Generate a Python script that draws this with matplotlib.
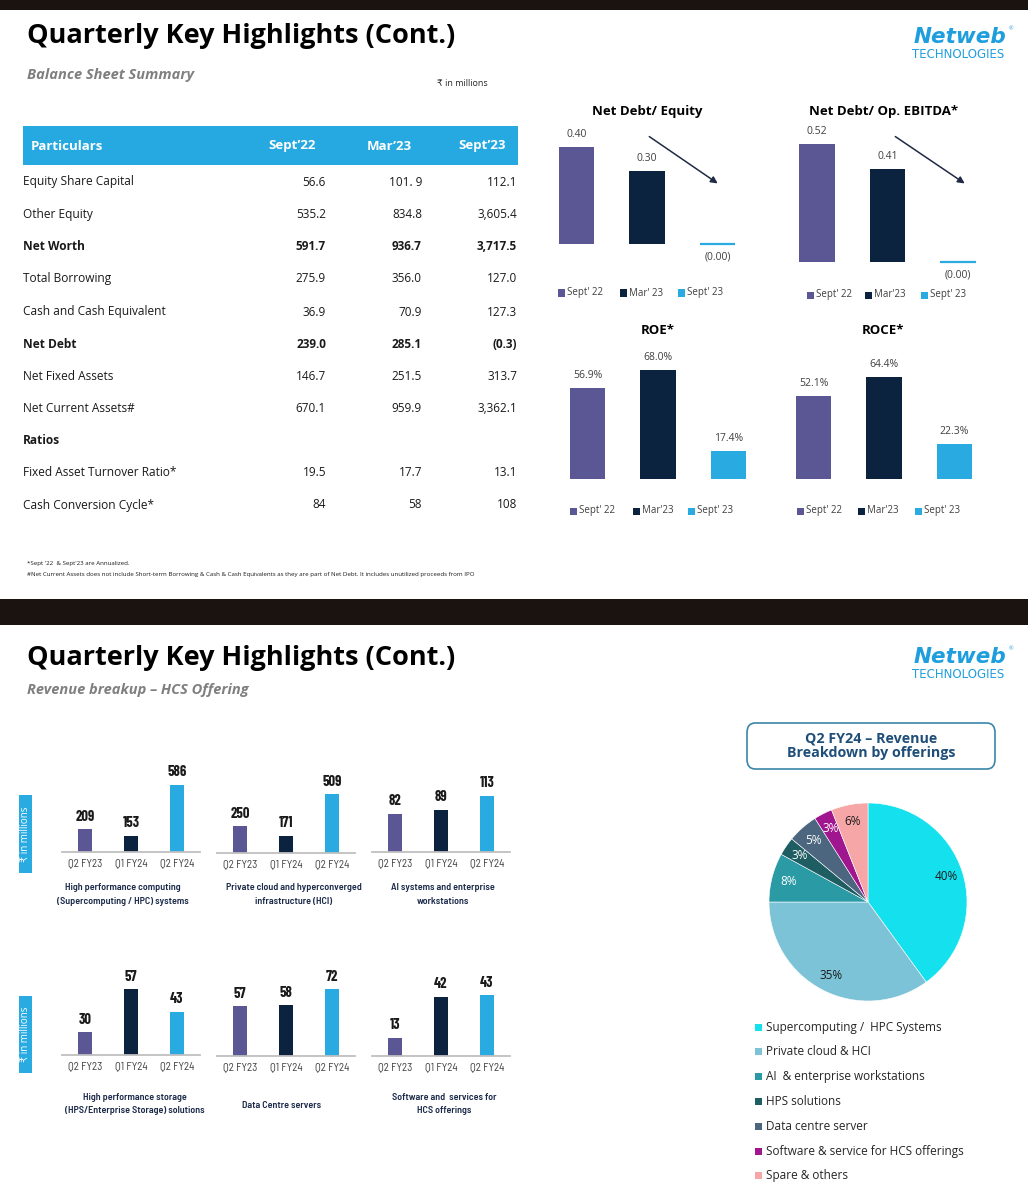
import matplotlib
matplotlib.use('Agg')
import matplotlib.pyplot as plt
from matplotlib.patches import Rectangle, FancyBboxPatch, FancyArrowPatch

# ---- data ----
table_rows = ["Equity Share Capital", "Other Equity", "Net Worth", "Total Borrowing",
              "Cash and Cash Equivalent", "Net Debt", "Net Fixed Assets",
              "Net Current Assets#", "Ratios", "Fixed Asset Turnover Ratio*",
              "Cash Conversion Cycle*"]
table_cols = ["Sept’22", "Mar’23", "Sept’23"]
sept22_vals = ["56.6", "535.2", "591.7", "275.9", "36.9", "239.0", "146.7", "670.1", "", "19.5", "84"]
mar23_vals = ["101. 9", "834.8", "936.7", "356.0", "70.9", "285.1", "251.5", "959.9", "", "17.7", "58"]
sept23_vals = ["112.1", "3,605.4", "3,717.5", "127.0", "127.3", "(0.3)", "313.7", "3,362.1", "", "13.1", "108"]
bold_rows = ["Net Worth", "Net Debt", "Ratios"]

net_debt_equity = [0.40, 0.30, -0.0001]
net_debt_ebitda = [0.52, 0.41, -0.0001]
roe = [56.9, 68.0, 17.4]
roce = [52.1, 64.4, 22.3]
legend_a = ["Sept' 22", "Mar' 23", "Sept' 23"]
legend_b = ["Sept' 22", "Mar'23", "Sept' 23"]

quarters = ["Q2 FY23", "Q1 FY24", "Q2 FY24"]
hpc_rev = [209, 153, 586]
hci_rev = [250, 171, 509]
ai_rev = [82, 89, 113]
hps_rev = [30, 57, 43]
dc_rev = [57, 58, 72]
sw_rev = [13, 42, 43]

pie_labels = ["Supercomputing /  HPC Systems", "Private cloud & HCI", "AI  & enterprise workstations",
              "HPS solutions", "Data centre server", "Software & service for HCS offerings",
              "Spare & others"]
pie_share = [40, 35, 8, 3, 5, 3, 6]

# ---- style ----
purple, navy, sky = '#5b5795', '#0c2340', '#29abe2'
bar_colors = [purple, navy, sky]
pie_colors = ['#14e0ee', '#7cc3d7', '#2a9aa5', '#1e5d62', '#4c6680', '#a0168f', '#f6a6a6']
pie_text = ['#1a1a1a', '#1a1a1a', 'white', 'white', 'white', 'white', '#1a1a1a']

W, H = 1028, 1197
plt.rcParams['font.family'] = ['Open Sans', 'DejaVu Sans']
fig = plt.figure(figsize=(W / 100, H / 100), dpi=100)
semi = ['Barlow Semi Condensed', 'Roboto', 'DejaVu Sans']
cond = ['Barlow Condensed', 'Roboto', 'DejaVu Sans']


def X(px):
    return px / W


def Y(py):
    return 1 - py / H


def box(x0, y0, x1, y1):
    return [X(x0), Y(y1), (x1 - x0) / W, (y1 - y0) / H]


def txt(x, y, s, **kw):
    kw.setdefault('va', 'center')
    fig.text(X(x), Y(y), s, **kw)


def rect(x0, y0, x1, y1, **kw):
    fig.add_artist(Rectangle((X(x0), Y(y1)), (x1 - x0) / W, (y1 - y0) / H,
                             transform=fig.transFigure, **kw))


def logo(y):
    txt(960, y, "Netweb", ha='center', fontsize=15.5, fontweight='bold', style='italic',
        color='#1f9ede', family=['DejaVu Sans'])
    txt(1011, y - 8, "®", ha='center', fontsize=4, color='#1f9ede')
    txt(958, y + 17, "TECHNOLOGIES", ha='center', fontsize=8.5, color='#1f9ede',
        family=['DejaVu Sans'])


# dark bands
rect(0, 0, W, 10, color='#1a1310', lw=0)
rect(0, 599, W, 625, color='#1a1310', lw=0)

# ---------------- top slide ----------------
txt(27, 43, "Quarterly Key Highlights (Cont.)", va='baseline', fontsize=19.5, fontweight='bold', color='black')
txt(27, 75, "Balance Sheet Summary", fontsize=10.5, fontweight='bold', style='italic', color='#7f7f7f')
txt(437, 83, "₹ in millions", fontsize=6.5, color='#262626')
logo(37)

# table
rect(23, 126, 518, 165, color='#26a9e0', lw=0)
txt(31, 146, "Particulars", fontsize=9.5, fontweight='bold', color='white')
for cx, c in zip([292, 389, 482], table_cols):
    txt(cx, 146, c, ha='center', fontsize=9.5, fontweight='bold', color='white')

row_y = [182, 215, 247, 279, 312, 344, 376, 408, 441, 473, 505]
for i, name in enumerate(table_rows):
    w = 'bold' if name in bold_rows else 'normal'
    txt(23, row_y[i], name, fontsize=8.6, fontweight=w, color='#1a1a1a')
    for rx, col in zip([326, 422, 517], [sept22_vals, mar23_vals, sept23_vals]):
        txt(rx, row_y[i], col[i], ha='right', fontsize=8.5, fontweight=w, color='#1a1a1a')

txt(27, 564, "*Sept '22  & Sept'23 are Annualized.", fontsize=4.4, color='#1a1a1a')
txt(27, 575, "#Net Current Assets does not include Short-term Borrowing & Cash & Cash Equivalents "
    "as they are part of Net Debt. It includes unutilized proceeds from IPO", fontsize=4.4, color='#1a1a1a')


def ratio_chart(c0, yb, s, vals, fmt, title, tx, ty, lx, ly, labels):
    ax = fig.add_axes(box(c0 - 35.25, yb - 130, c0 + 2 * 70.5 + 35.25, yb + 30))
    ax.set_xlim(-0.5, 2.5)
    ax.set_ylim(-30 / s, 130 / s)
    lws = [1.6 if abs(v) < 0.01 * max(vals) else 0 for v in vals]
    ax.bar(range(3), vals, width=0.5, color=bar_colors, edgecolor=bar_colors, linewidth=lws)
    for i, v in enumerate(vals):
        if v < 0:
            ax.annotate(fmt(v), (i, 0), xytext=(0, -9.5), textcoords='offset points',
                        ha='center', va='center', fontsize=7.5, color='#404040')
        else:
            ax.annotate(fmt(v), (i, v), xytext=(0, 9), textcoords='offset points',
                        ha='center', va='center', fontsize=7.5, color='#404040')
    ax.axis('off')
    txt(tx, ty, title, ha='center', fontsize=9.5, fontweight='bold', color='black')
    for sx, c, lab in zip(lx, bar_colors, labels):
        rect(sx, ly - 3.5, sx + 7, ly + 3.5, color=c, lw=0)
        txt(sx + 9, ly, lab, fontsize=7, color='#404040')


def ratio_fmt(v):
    return "({:.2f})".format(abs(v)) if v < 0 else "{:.2f}".format(v)


def pct_fmt(v):
    return "{:.1f}%".format(v)


ratio_chart(576.5, 244, 242.5, net_debt_equity, ratio_fmt, "Net Debt/ Equity", 647, 111,
            [558, 620, 678], 293, legend_a)
ratio_chart(817, 262, 227, net_debt_ebitda, ratio_fmt, "Net Debt/ Op. EBITDA*", 884, 111,
            [807, 865, 921], 295, legend_b)
ratio_chart(587.5, 479, 1.6, roe, pct_fmt, "ROE*", 658, 330, [570, 633, 688], 511, legend_b)
ratio_chart(813.5, 479, 1.59, roce, pct_fmt, "ROCE*", 883, 330, [797, 858, 915], 511, legend_b)

for (ax0, ay0), (ax1, ay1) in [((647, 135), (720, 185)), ((893, 135), (967, 185))]:
    fig.add_artist(FancyArrowPatch((X(ax0), Y(ay0)), (X(ax1), Y(ay1)), transform=fig.transFigure,
                                   arrowstyle='-|>', mutation_scale=10, color='#1f2a44', lw=1.1))

# ---------------- bottom slide ----------------
txt(27, 665, "Quarterly Key Highlights (Cont.)", va='baseline', fontsize=19.5, fontweight='bold', color='black')
txt(27, 690, "Revenue breakup – HCS Offering", fontsize=10.5, fontweight='bold', style='italic', color='#7f7f7f')
logo(657)

for y0, y1 in [(795, 873), (996, 1073)]:
    rect(19, y0, 32, y1, color=sky, lw=0)
    txt(25.5, (y0 + y1) / 2, "₹ in millions", ha='center', rotation=90, fontsize=7, color='white')


def rev_chart(x0, yb, vals, ylim, title, tx, ty):
    ax = fig.add_axes(box(x0, yb - 90, x0 + 138, yb))
    ax.bar(range(3), vals, width=0.3, color=bar_colors)
    ax.set_xlim(-0.5, 2.5)
    ax.set_ylim(*ylim)
    for sp in ['top', 'right', 'left']:
        ax.spines[sp].set_visible(False)
    ax.spines['bottom'].set_color('#bfbfbf')
    ax.spines['bottom'].set_linewidth(1.3)
    ax.set_yticks([])
    ax.set_xticks(range(3), quarters, family=semi)
    ax.tick_params(length=0, pad=4, labelsize=8, labelcolor='#404040')
    for i, v in enumerate(vals):
        ax.annotate(str(v), (i, v), xytext=(0, 9), textcoords='offset points', ha='center',
                    va='center', fontsize=10.5, fontweight='bold', color='#1a1a1a', family=cond)
    for k, line in enumerate(title):
        txt(tx, ty + k * 13.5, line, ha='center', fontsize=7.2, fontweight='semibold',
            color='#1c2b4a', family=semi)


rev_chart(62, 852, hpc_rev, (12, 783), ["High performance computing", "(Supercomputing / HPC) systems"], 123, 888)
rev_chart(217, 853, hci_rev, (31.5, 760), ["Private cloud and hyperconverged", "infrastructure (HCI)"], 294, 888)
rev_chart(372, 852, ai_rev, (16.5, 171.5), ["AI systems and enterprise", "workstations"], 443, 888)
rev_chart(62, 1055, hps_rev, (15.7, 72.3), ["High performance storage", "(HPS/Enterprise Storage) solutions"], 135, 1097)
rev_chart(217, 1056, dc_rev, (12.9, 92.5), ["Data Centre servers"], 282, 1105)
rev_chart(372, 1056, sw_rev, (0, 63.8), ["Software and  services for", "HCS offerings"], 444, 1097)

# pie title box
fig.add_artist(FancyBboxPatch((X(747), Y(769)), (995 - 747) / W, (769 - 723) / H,
                              boxstyle='round,pad=0,rounding_size=0.008', transform=fig.transFigure,
                              facecolor='white', edgecolor='#3b86a8', lw=1.2))
txt(871, 746, "Q2 FY24 – Revenue\nBreakdown by offerings", ha='center', fontsize=10.3,
    fontweight='bold', color='#1f4e79', linespacing=1.05)

pax = fig.add_axes(box(769, 803, 967, 1001))
wedges, texts, autotexts = pax.pie(pie_share, colors=pie_colors, startangle=90, counterclock=False,
                                   autopct='%d%%', pctdistance=0.83,
                                   wedgeprops=dict(edgecolor='white', linewidth=0.4))
for t, c in zip(autotexts, pie_text):
    t.set_color(c)
    t.set_fontsize(8.5)
pax.set_xlim(-1, 1)
pax.set_ylim(-1, 1)
pax.set_aspect('equal')
pax.axis('off')

for k, (lab, c) in enumerate(zip(pie_labels, pie_colors)):
    ly = 1027 + k * 24.8
    rect(755, ly - 3.5, 762, ly + 3.5, color=c, lw=0)
    txt(766, ly, lab, fontsize=8.5, color='#262626')

fig.savefig('out.png', dpi=100, facecolor='white')
